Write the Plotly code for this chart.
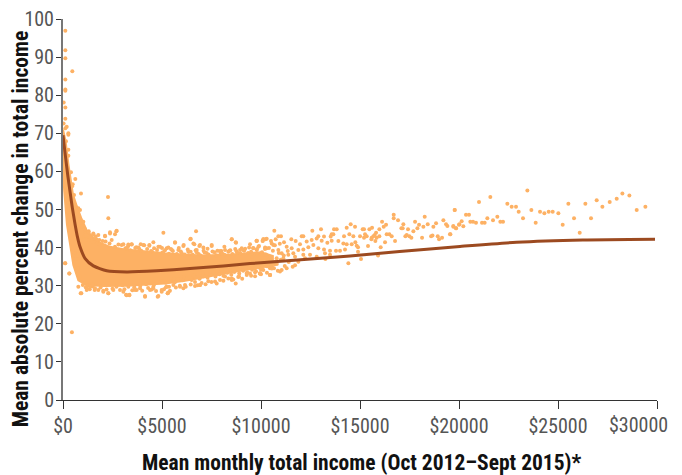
import plotly.graph_objects as go

FONT = "Liberation Sans Narrow, Roboto Condensed, Liberation Sans, sans-serif"
DOT = "#FDB164"
LINE = "#9C4A20"

# fitted curve
curve_x = [0, 100, 240, 390, 470, 606, 730, 859, 1111, 1532, 2207, 3217, 4732, 6414, 8100, 9444, 11500, 14495, 17000, 20050, 22900, 26260, 29900]
curve_y = [69.5, 65, 59, 53.4, 50.5, 46.2, 42.8, 40.2, 37.2, 35.2, 33.9, 33.6, 33.9, 34.5, 35.2, 35.8, 36.6, 37.8, 39.0, 40.3, 41.4, 42.0, 42.2]

# outline of the solid dense cloud
cloud_top_x = [0, 130, 270, 400, 500, 690, 940, 1200, 1532, 1900, 2374, 3048, 3890, 5152, 6162, 7173, 8520, 9362, 10000, 10600]
cloud_top_y = [71, 68, 62, 58, 54, 51, 47.5, 44.5, 42.6, 41.2, 40.2, 39.6, 39.1, 38.5, 38.1, 37.9, 38.2, 38.6, 38.8, 37.8]
cloud_low_x = [10600, 10000, 9362, 8183, 7173, 6162, 5152, 4395, 3216, 2037, 1195, 774, 522, 354, 200, 60, 0]
cloud_low_y = [35.0, 34.9, 34.3, 33.2, 32.4, 31.3, 30.6, 30.4, 30.0, 29.9, 30.2, 31.4, 35.4, 41, 46, 55, 60]

# individually readable dots
dots_x = [118,118,118,470,118,118,118,35,118,118,30,187,120,270,270,150,270,270,404,621,490,460,556,909,2273,
2290,2374,2122,2694,5069,6719,5658,6450,6585,8521,8740,9784,10087,10121,118,320,926,1196,3183,3351,4143,4782,5288,4985,4479,3890,2290,2038,1785,2880,3722,4563,6079,6668,6921,7931,7679,8521,9279,9952,10457,450,
3048,3469,3924,4362,4816,5237,6079,6888,7510,8184,8942,9616,2627,1835,1532,1111,1027,859,775,1300,1650,2150,2350,2800,3300,3700,4100,4600,5000,5450,5850,6300,6700,7100,7300,7800,8000,8450,8700,9200,9400,
1000,1150,1350,1500,1600,1900,2200,2500,2700,3100,3500,3600,4000,4300,4700,5100,5200,5400,5700,5900,6200,6450,6800,7000,7200,7500,8100,8350,8600,8850,9050,9500,9700,10000,10300,
9781,10084,10235,10505,10741,11162,11532,11751,11970,12307,12559,12812,13065,13351,13570,13907,14159,14328,14580,10286,10623,10875,11044,11296,11549,11633,11886,12138,12391,12644,12896,13182,13486,13788,14243,13990,13233,13486,12812,12138,12223,11886,11718,11296,11044,10960,10454,9949,10118,10656,10454,9697,9444,9781,10033,10454,10791,11128,10286,10707,11381,11718,12475,13250,14412,15052,15911,16045,
19784,18268,16702,16702,16113,16921,19211,17190,16315,16197,17780,17982,18420,18841,18201,18706,19346,19413,19716,20020,19851,17089,17155,17426,17696,17898,19565,18590,18660,18925,18992,19144,18134,
15978,15810,15742,15591,15675,15843,15776,15978,15473,15608,15136,15203,15254,15203,15338,15001,15574,15405,14900,14900,14765,14833,14530,14328,14749,14462,14193,14664,13688,13822,13031,12593,10673,13570,13654,10875,11010,12054,12138,12896,13182,13519,16348,16483,16601,16770,16264,17291,17359,17493,17595,
19545,19781,19713,19848,19999,20134,20219,20353,20505,20572,20707,20858,21010,21162,21296,21431,21583,21717,21936,22088,22223,22441,22660,22879,23014,23233,23452,23654,23873,24092,24311,24530,24732,25018,25237,25523,25809,26096,26382,26668,26954,27241,27611,27965,28251,28605,28975,29413,
6432,5657,6634,6095,6920,7510,8520,8722,9783,10120,10288,8150,9446,9867,10541,5826,6331,6752,7089,7931,9025,10204,5287,5354,5910,6162,6920,6668,7341,7762,8722,8183,8890,9278,9951,10457,8520,5573,
2711,2374,2627,2121,2458,1785,1532,1279,1111,101,320,892,774,1195,1616,2037,2290,2542,3048,3216,3351,3637,4143,4395,4563,4816,4984,5237,5321,2963,3300,3469,3805,4058,4361,4563,4900,5321,
9500,9650,9900,10150,10350,10500,10700,10850,11000,11200,11400,11600,9550,9800,10050,10250,10600,10900,11150,11350,9600,9900,10200,10400,10700,10950,9700,10000,10300,10550,10800,
600,680,760,840,950,1060,1170,1280,1400,1550,1700,1850,2000,1120,1240,1370,1480,
3150,3400,3650,3950,4250,4500,4750,5000,5150,5350,5550,5750,5950,6150,6350,6550,6750,6950,7150,7350,7550,7750,7950,8150,8350,8550,8750,8950,9150,9350,3250,3850,4450,5050,5500,6000,6450,6850,7250,7650,8050,8400,8800,9100,9500,9800,
3000,3300,3600,3900,4200,4600,4900,5200,5450,5650,5800,6050,6250,6500,6700,6900,7100,7300,7450,7700,7900,8100,8300,8500,8650,8900,9100,9300,9550,9750,10050,5000,5600,6100,6600,7050,7600,8000,8450,8950,9400,9850]
dots_y = [96.9,91.8,89.7,86.3,84.1,81.5,81.2,78.1,76.8,73.8,72.6,71.7,71.3,70,69.6,67.9,65.7,64.1,59.8,58,56.6,56.1,53.8,54.2,53.3,
47.7,43.7,43,44.3,43.9,44.3,41.3,42.3,41.1,42.2,41.3,41.8,41.8,42.2,35.9,33.2,28,29.3,27.6,27.6,27.1,27.1,28,28.4,29,29.3,28,28.4,28.9,28.9,28.9,29.3,29.3,29.9,30.2,31.5,31.1,31.5,32.8,33.2,32.8,17.8,
40.9,40.9,40.9,40.7,40.2,39.8,40.4,40.4,40.4,39.4,39.4,39.8,40.2,42,43.7,43.7,46.8,49.9,50.3,44.3,42.9,41.6,41.1,40.8,40.5,40.1,40.6,39.8,39.9,39.6,39.9,39.5,39.3,39.2,39.7,39.2,39.1,39.3,39.6,39.7,40,
30.2,29.6,29.1,29.8,28.9,29.5,29,29.2,29.7,29.1,28.8,29.6,28.7,29.4,28.6,29.1,29.6,28.7,29.5,30,29.7,30.3,30.1,30.7,30.4,31,31.3,31.9,31.6,32.3,31.8,32.6,32.5,33,33.4,
41.7,41.7,42.2,41.7,42.2,41.4,42.2,41.7,40.9,41.6,42,42.4,41.8,41.3,41.8,41.7,41.1,40.9,40.9,39.8,40.7,39.4,38.5,40.2,39.8,38.5,39.4,39.5,40.1,40.7,39.8,39.5,39.2,39.2,39.5,39.2,38.5,38.1,37.6,38.1,37.2,36.3,35.4,34.6,34.1,33.7,32.8,33.2,34.1,34.6,34.6,34.6,33.2,39.4,38.1,37.6,37.2,37.2,36.3,36.3,38.1,37.6,38.1,37,35.9,37,37.9,40.1,
49.9,48.1,48.6,47.7,46.8,47.2,47.2,46.1,46,45.5,46.8,46,46.1,46.4,45.5,45.5,46.1,45.7,45.5,46.1,45.1,45.1,45.1,44.8,44.3,45.1,43.5,43,43.2,43,42.2,42.6,42.6,
44.8,43.9,43.3,42.6,43,42.6,41.7,43,44.8,45.2,44.8,44.8,43.5,42.6,43,43,42.2,40.4,38.9,40.1,41.4,40.5,46.1,45.2,45.5,43.5,43,43,44.8,44.8,44.8,44.4,44.4,43.5,43.5,43,43,43,43,43,42.9,42.9,43.5,43.5,43,41.7,41.4,43,43.3,43,42.6,
43.5,49.9,45.7,45.1,46,46.9,45.6,48.6,48.6,46.8,46.8,46.5,52,46.5,46.5,47.7,53.3,47.2,48.1,46.8,46.8,51.5,50.7,50.7,49.4,47.7,55,49.9,46.5,49.4,49,49.4,49.4,49,46,51.5,47.7,43.9,51.5,47.7,52.4,50.7,52,52.8,54.2,53.7,49.9,50.7,
42.2,41.4,40.9,40.7,40.7,40.7,42.2,41.4,41.8,42.2,42.3,40.2,40.9,40.2,41.1,39.4,38.9,39.4,40,39.1,39.8,40,28,29.7,29.7,30.2,30.2,31,31.2,30.6,30.6,32.4,32.4,33.2,33.2,32.8,31.9,30.2,
44.4,44,43.5,43.1,42,43.3,43.5,44,44.8,35.9,33.2,28,29.7,28.9,29.3,28.7,28,28.9,28.4,27.5,27.5,28.9,27.3,28.9,29.7,27.3,28.9,29.7,28.2,40.7,40.8,40.8,40,40.7,40.5,41.4,40.2,40,
36.2,35.4,34.8,35.8,36.6,34.9,35.6,33.9,36.8,35.2,36.2,35,37.6,38.4,38.8,38.2,39.2,38.6,37.9,39.1,39.9,40.4,39.6,39.9,40.6,41,33.5,34.2,35.1,34.5,35.7,
38.6,37,34.5,32.4,45.6,42.8,43.2,41.9,42.7,41.4,42.1,40.9,41.7,30.6,30,29.7,30.3,
39.8,39.3,39.9,39.2,39.6,38.9,39.4,38.6,39.3,38.4,39.1,38.3,39,38.2,38.9,38.1,38.8,37.9,38.7,38.2,39,38,38.6,38.1,38.9,38.3,39.1,38.5,39.2,38.6,40.1,39.6,39.1,38.8,39.4,38.5,38.9,38.3,38.6,38.8,38.4,39.2,38.7,39.4,38.9,39.6,
30.1,29.7,30.2,29.9,30.4,30.3,30.9,30.8,31.3,30.9,31.6,31.4,31.9,31.5,32.2,31.8,32.5,32.1,32.8,32.4,33,32.6,33.4,32.9,33.6,33.2,33.9,33.5,34.2,33.8,34.5,31.2,31.9,32.3,32.7,33.2,33.5,33.9,34.1,34.4,34.8,35]

y_ticks = [0, 10, 20, 30, 40, 50, 60, 70, 80, 90, 100]
x_ticks = [0, 5000, 10000, 15000, 20000, 25000, 30000]
x_labels = ["$0", "$5000", "$10000", "$15000", "$20000", "$25000", ""]
last_label = "$30000"
x_title = "Mean monthly total income (Oct 2012\u2013Sept 2015)*"
y_title = "Mean absolute percent change in total income"

fig = go.Figure()
fig.add_trace(go.Scatter(x=cloud_top_x + cloud_low_x, y=cloud_top_y + cloud_low_y, mode="lines",
                         fill="toself", fillcolor=DOT, line=dict(color=DOT, width=2), hoverinfo="skip", showlegend=False))
fig.add_trace(go.Scatter(x=dots_x, y=dots_y, mode="markers", marker=dict(color=DOT, size=4, line=dict(width=0)),
                         cliponaxis=False, showlegend=False))
fig.add_trace(go.Scatter(x=curve_x, y=curve_y, mode="lines", line=dict(color=LINE, width=3, shape="spline", smoothing=0.6),
                         showlegend=False))
fig.update_layout(
    width=682, height=475, margin=dict(l=63, r=25, t=19, b=75, autoexpand=False),
    paper_bgcolor="white", plot_bgcolor="white", showlegend=False,
    font=dict(family=FONT),
    xaxis=dict(range=[0, 30000], automargin=False, tickvals=x_ticks, ticktext=x_labels, ticks="outside", ticklen=8, tickcolor="#333",
               tickfont=dict(size=20, color="#555"), showline=True, linecolor="#333", linewidth=1, showgrid=False, zeroline=False),
    yaxis=dict(range=[0, 100], automargin=False, tickvals=y_ticks, ticks="outside", ticklen=5, tickcolor="#333", ticklabelstandoff=-2,
               tickfont=dict(size=20, color="#555"), showline=True, linecolor="#777", linewidth=2, showgrid=False, zeroline=False),
    annotations=[
        dict(x=x_ticks[-1], y=0, xref="x", yref="y", text=last_label, showarrow=False, xanchor="right",
             yanchor="top", xshift=13, yshift=-11, font=dict(size=20, color="#555")),
        dict(x=0.503, y=-0.1645, xref="paper", yref="paper", text="<b>" + x_title + "</b>", showarrow=False,
             xanchor="center", yanchor="middle", font=dict(size=21.5, color="#111")),
        dict(x=-0.07, y=0.449, xref="paper", yref="paper", text="<b>" + y_title + "</b>", showarrow=False, textangle=-90,
             xanchor="center", yanchor="middle", font=dict(size=21.5, color="#111")),
    ],
)
assert len(dots_x) == len(dots_y), (len(dots_x), len(dots_y))
fig.write_html("out.html", config=dict(displayModeBar=False), post_script="document.body.style.margin='0';")
